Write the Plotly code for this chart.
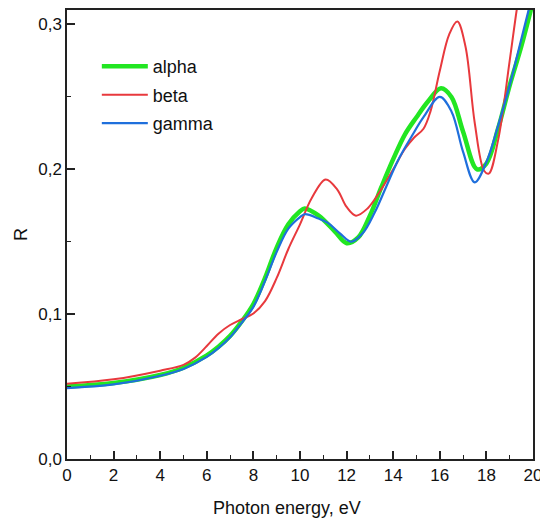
import plotly.graph_objects as go

# Photon energy (eV) and reflectivity R for each phase
alpha_E = [0, 2, 4, 5, 6, 6.5, 7, 7.5, 8, 8.5, 9, 9.5, 10, 10.2, 10.8, 11.5, 12.0, 12.5, 13,
           13.5, 14, 14.5, 15, 15.5, 16.05, 16.5, 17, 17.6, 18, 18.5, 19, 19.5, 20]
alpha_R = [0.050, 0.0525, 0.058, 0.063, 0.0715, 0.0775, 0.085, 0.095, 0.107, 0.125, 0.146, 0.162,
           0.171, 0.173, 0.168, 0.157, 0.149, 0.153, 0.168, 0.188, 0.207, 0.224, 0.236, 0.247, 0.256,
           0.250, 0.226, 0.200, 0.204, 0.228, 0.258, 0.285, 0.316]

beta_E = [0, 2, 4, 5, 5.5, 6, 6.5, 7, 7.5, 8, 8.5, 9, 9.5, 10, 10.5, 11.1, 11.6, 12,
          12.4, 12.9, 13.4, 14, 14.5, 14.9, 15.3, 15.6, 16, 16.4, 16.75, 17.1, 17.5, 17.9, 18.1, 18.5,
          19, 19.3, 19.5]
beta_R = [0.052, 0.055, 0.061, 0.065, 0.070, 0.078, 0.0865, 0.0925, 0.0965, 0.1005, 0.109, 0.125,
          0.145, 0.162, 0.180, 0.193, 0.186, 0.174, 0.168, 0.173, 0.184, 0.200, 0.214, 0.222,
          0.228, 0.240, 0.268, 0.293, 0.302, 0.285, 0.232, 0.199, 0.197, 0.220, 0.275, 0.310, 0.330]

gamma_E = [0, 2, 4, 5, 6, 6.5, 7, 7.5, 8, 8.5, 9, 9.5, 10, 10.2, 10.8, 11.2, 11.7, 12.2, 12.7,
           13.2, 13.7, 14.2, 14.8, 15.3, 16.0, 16.5, 17.0, 17.5, 18.0, 18.5, 19.0, 19.5, 20]
gamma_R = [0.049, 0.0515, 0.0575, 0.0622, 0.0705, 0.0765, 0.084, 0.094, 0.105, 0.123, 0.143, 0.159,
           0.167, 0.169, 0.166, 0.163, 0.156, 0.150, 0.156, 0.170, 0.188, 0.206, 0.223, 0.236, 0.250,
           0.240, 0.212, 0.191, 0.205, 0.230, 0.258, 0.290, 0.322]

x_ticks = [0, 2, 4, 6, 8, 10, 12, 14, 16, 18, 20]
y_ticks = [0.0, 0.1, 0.2, 0.3]

font_family = "Liberation Sans, Arial, sans-serif"

fig = go.Figure()
fig.add_trace(go.Scatter(x=alpha_E, y=alpha_R, name="alpha", mode="lines", legendgroup="a",
                         line=dict(color="#22e622", width=4.5, shape="spline", smoothing=1)))
fig.add_trace(go.Scatter(x=beta_E, y=beta_R, name="beta", mode="lines", legendgroup="b",
                         line=dict(color="#e8393d", width=2, shape="spline", smoothing=1)))
fig.add_trace(go.Scatter(x=gamma_E, y=gamma_R, name="gamma", mode="lines", legendgroup="c",
                         line=dict(color="#1f6fdc", width=2.2, shape="spline", smoothing=1)))

axis_common = dict(showgrid=False, zeroline=False, showline=True, linecolor="#222",
                   linewidth=1.5, mirror=True, ticks="inside", tickcolor="#222",
                   tickwidth=1.5, ticklen=8, automargin=False,
                   tickfont=dict(family=font_family, size=17, color="#111"))

fig.update_xaxes(range=[0, 20], tickvals=x_ticks,
                 minor=dict(ticks="inside", dtick=1, ticklen=4, tickcolor="#222", tickwidth=1.2),
                 **axis_common)
fig.update_yaxes(range=[0, 0.31], tickvals=y_ticks, tickformat=".1f",
                 minor=dict(ticks="inside", dtick=0.05, ticklen=4, tickcolor="#222", tickwidth=1.2),
                 title=dict(text="R", font=dict(family=font_family, size=18, color="#111"), standoff=6),
                 **axis_common)

fig.add_annotation(text="Photon energy, eV", xref="paper", yref="paper",
                   x=0.472, y=-0.109, xanchor="center", yanchor="middle", showarrow=False,
                   font=dict(family=font_family, size=18, color="#111"))

# The page body has an 8px default margin, so the figure is sized to fill the rest of the window.
fig.update_layout(
    width=540, height=512,
    margin=dict(l=59, r=15, t=2, b=61),
    plot_bgcolor="white", paper_bgcolor="white",
    separators=", ",
    showlegend=True,
    legend=dict(x=0.064, y=0.915, xanchor="left", yanchor="top",
                bgcolor="rgba(0,0,0,0)", font=dict(family=font_family, size=18, color="#111"),
                itemwidth=46, tracegroupgap=2),
)

fig.write_html("out.html")
